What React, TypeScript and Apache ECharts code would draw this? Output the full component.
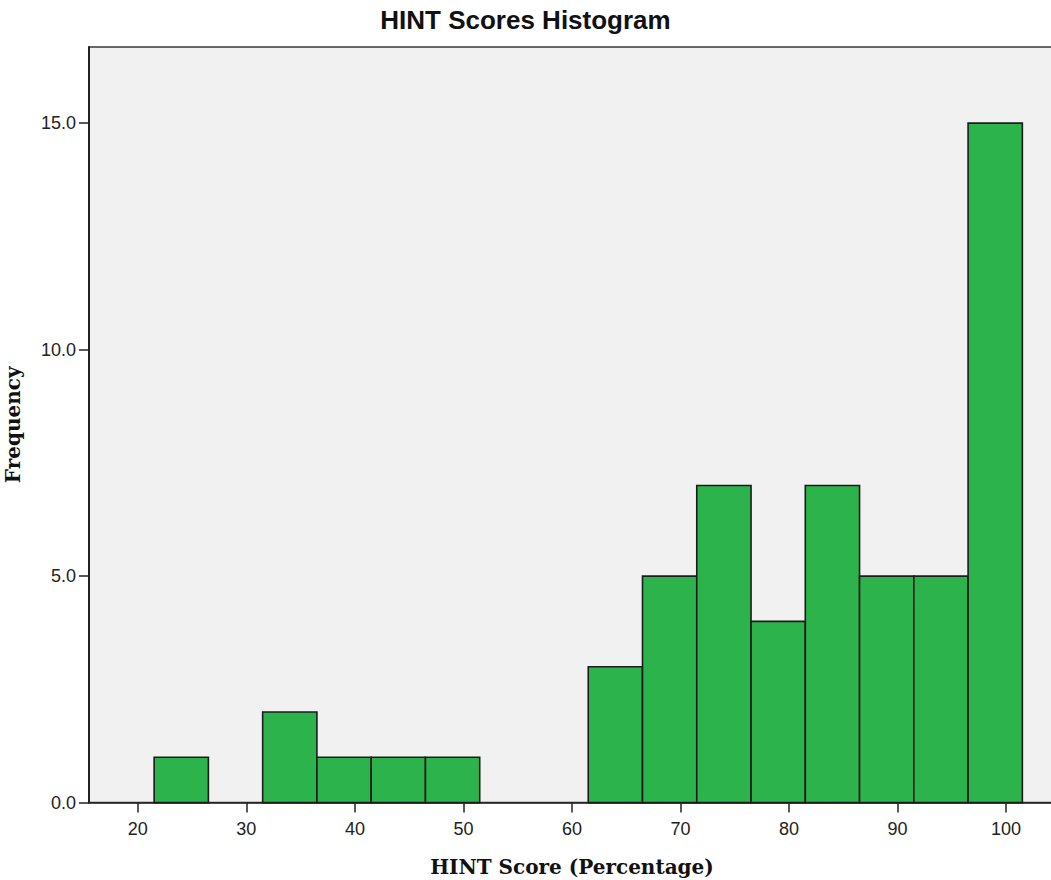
import React, { useEffect, useRef } from "react";
import * as echarts from "echarts";

const title = "HINT Scores Histogram";
const xName = "HINT Score (Percentage)";
const yName = "Frequency";
const binStarts = [21.5, 26.5, 31.5, 36.5, 41.5, 46.5, 51.5, 56.5, 61.5, 66.5, 71.5, 76.5, 81.5, 86.5, 91.5, 96.5];
const binWidth = 5;
const counts = [1, 0, 2, 1, 1, 1, 0, 0, 3, 5, 7, 4, 7, 5, 5, 15];
const xTicks = [20, 30, 40, 50, 60, 70, 80, 90, 100];
const yTicks = [0, 5, 10, 15];

export default function App() {
  const ref = useRef<HTMLDivElement>(null);
  useEffect(() => {
    document.body.style.margin = "0";
    const chart = echarts.init(ref.current!, null, { renderer: "svg" });
    const data = binStarts
      .map((s, i) => [s, s + binWidth, counts[i]])
      .filter((d) => d[2] > 0);
    const xMin = 15.5;
    const xMax = 104.5;
    const yMax = 16.68;
    const pxPerX = 10.853;
    const pxPerY = 45.3;
    chart.setOption({
      animation: false,
      backgroundColor: "#ffffff",
      title: {
        text: title,
        left: "center",
        top: 2,
        textStyle: { fontFamily: "Liberation Sans", fontWeight: "bold", fontSize: 26, color: "#111" },
      },
      grid: {
        left: 89,
        top: 47,
        width: (xMax - xMin) * pxPerX,
        height: yMax * pxPerY,
        outerBoundsMode: "none",
        containLabel: false,
        show: true,
        backgroundColor: "#f0f1f0",
        borderColor: "#3a3a3a",
        borderWidth: 1.5,
      },
      xAxis: {
        type: "value",
        min: xMin,
        max: xMax,
        name: xName,
        nameLocation: "middle",
        nameGap: 54,
        nameTextStyle: { fontFamily: "DejaVu Serif", fontWeight: "bold", fontSize: 20, color: "#111" },
        splitLine: { show: false },
        axisLine: { show: true, onZero: false, lineStyle: { color: "#222", width: 1.5 } },
        axisTick: { show: true, inside: false, length: 10, customValues: xTicks, lineStyle: { color: "#222", width: 1.5 } },
        axisLabel: {
          customValues: xTicks,
          margin: 17,
          fontFamily: "Liberation Sans",
          fontSize: 18,
          color: "#222",
        },
      },
      yAxis: {
        type: "value",
        min: 0,
        max: yMax,
        name: yName,
        nameLocation: "middle",
        nameRotate: 90,
        nameGap: 66,
        nameTextStyle: { fontFamily: "DejaVu Serif", fontWeight: "bold", fontSize: 20, color: "#111" },
        splitLine: { show: false },
        axisLine: { show: true, lineStyle: { color: "#222", width: 2 } },
        axisTick: { show: true, inside: false, length: 10, customValues: yTicks, lineStyle: { color: "#222", width: 1.5 } },
        axisLabel: {
          customValues: yTicks,
          margin: 13,
          fontFamily: "Liberation Sans",
          fontSize: 18,
          color: "#222",
          formatter: (v: number) => v.toFixed(1),
        },
      },
      series: [
        {
          type: "custom",
          data,
          encode: { x: [0, 1], y: 2 },
          renderItem: (params: any, api: any) => {
            const p0 = api.coord([api.value(0), api.value(2)]);
            const p1 = api.coord([api.value(1), 0]);
            return {
              type: "rect",
              shape: { x: p0[0], y: p0[1], width: p1[0] - p0[0], height: p1[1] - p0[1] },
              style: { fill: "#2db34b", stroke: "#1c1c1c", lineWidth: 1.6 },
            };
          },
        },
      ],
    });
    return () => chart.dispose();
  }, []);
  return <div ref={ref} style={{ width: 1051, height: 880 }} />;
}
